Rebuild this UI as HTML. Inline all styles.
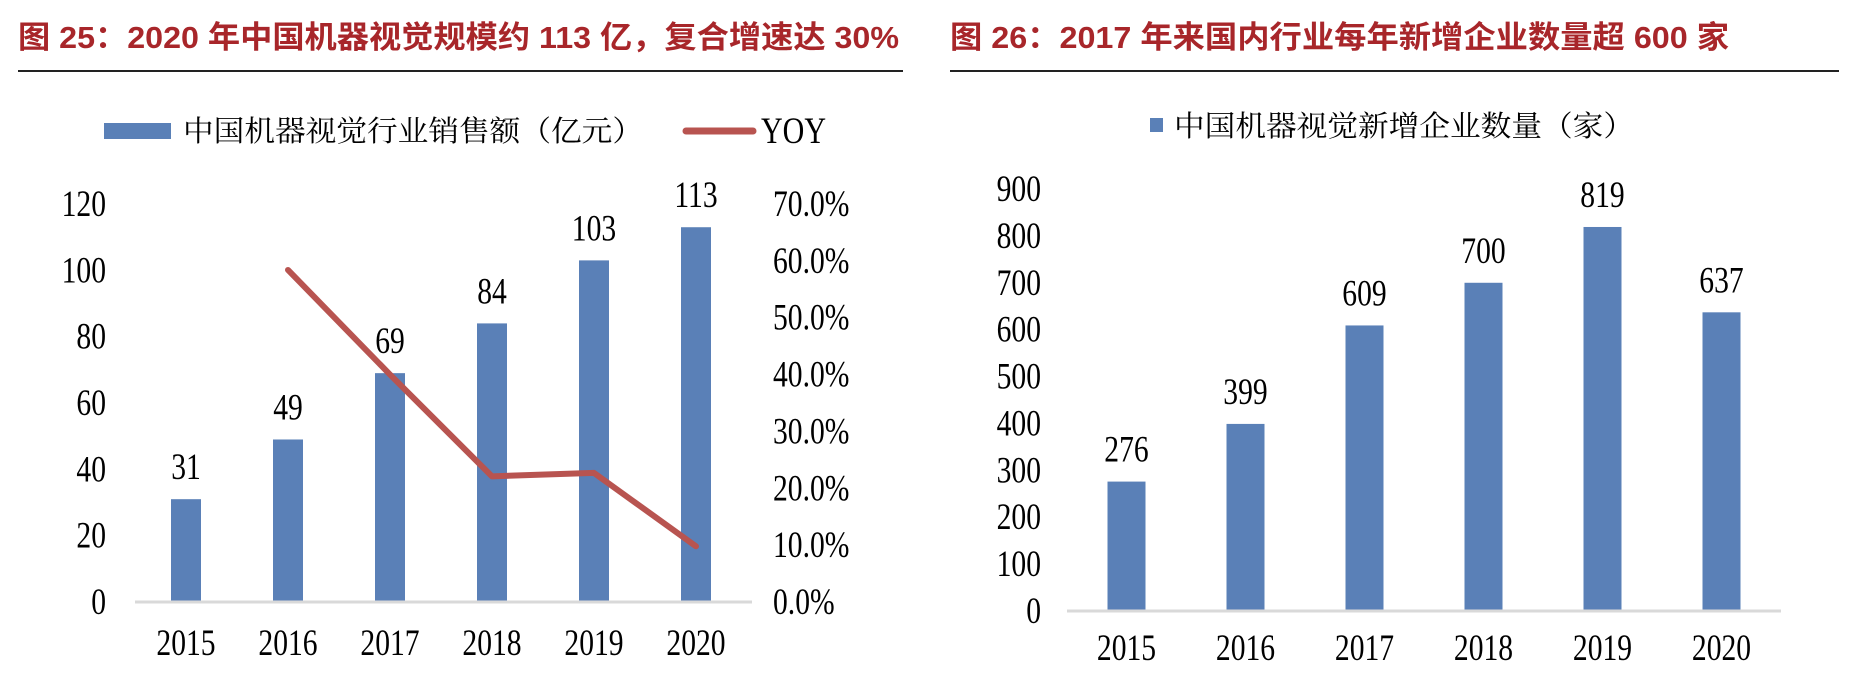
<!DOCTYPE html>
<html><head><meta charset="utf-8"><style>
html,body{margin:0;padding:0;background:#fff;overflow:hidden;}
svg{display:block;}
.num{font-family:"Liberation Serif",serif;font-size:37px;fill:#000;}
.ttl{font-family:"Liberation Sans","Noto Sans CJK SC",sans-serif;font-weight:bold;font-size:31px;fill:#a8262a;}
.lg{font-family:"Liberation Serif","Noto Serif CJK SC",serif;font-size:29px;fill:#000;}
</style></head><body>
<svg id="svg" width="1850" height="692" viewBox="0 0 1850 692" xmlns="http://www.w3.org/2000/svg">
<text class="ttl" x="18" y="48" textLength="881" lengthAdjust="spacingAndGlyphs">图 25：2020 年中国机器视觉规模约 113 亿，复合增速达 30%</text>
<line x1="18" y1="71" x2="903" y2="71" stroke="#222" stroke-width="2"/>
<text class="ttl" x="950" y="48" textLength="779" lengthAdjust="spacingAndGlyphs">图 26：2017 年来国内行业每年新增企业数量超 600 家</text>
<line x1="950" y1="71" x2="1839" y2="71" stroke="#222" stroke-width="2"/>

<rect x="104" y="123" width="67" height="16" fill="#5a80b7"/>
<text class="lg" x="183" y="141" textLength="460" lengthAdjust="spacingAndGlyphs">中国机器视觉行业销售额（亿元）</text>
<line x1="686" y1="131" x2="753" y2="131" stroke="#b85450" stroke-width="7" stroke-linecap="round"/>
<text class="num" x="761" y="143" textLength="65" lengthAdjust="spacingAndGlyphs">YOY</text>

<rect x="1150" y="118" width="13" height="14" fill="#5a80b7"/>
<text class="lg" x="1174" y="136" textLength="460" lengthAdjust="spacingAndGlyphs">中国机器视觉新增企业数量（家）</text>
<g id="c1"></g><g id="c2"></g>
</svg>
<script>
const years = ["2015","2016","2017","2018","2019","2020"];
const sales = [31,49,69,84,103,113];
const yoy = [null,58.4,40.0,22.1,22.7,9.8];
const leftTicks = [0,20,40,60,80,100,120];
const rightTicks = [0,10,20,30,40,50,60,70];
const firms = [276,399,609,700,819,637];
const firmTicks = [0,100,200,300,400,500,600,700,800,900];

const NS="http://www.w3.org/2000/svg";
function el(tag,attrs,parent){const e=document.createElementNS(NS,tag);for(const k in attrs)e.setAttribute(k,attrs[k]);parent.appendChild(e);return e;}
function txt(parent,s,x,y,anchor){
  const t=el('text',{class:'num',transform:`translate(${x},${y}) scale(0.8,1)`,'text-anchor':anchor},parent);
  t.textContent=s;return t;
}
// Chart 1
const g1=document.getElementById('c1');
const x0=135,x1=747,yb=602,yt=204;
const band=(x1-x0)/years.length;
const xc=i=>x0+band*(i+0.5);
const yL=v=>yb-(v/120)*(yb-yt);
const yR=v=>yb-(v/70)*(yb-yt);
let e;
leftTicks.forEach(v=>{e=txt(g1,String(v),106,yL(v)+12,'end');

});
rightTicks.forEach(v=>{e=txt(g1,v.toFixed(1)+'%',773,yR(v)+12,'start');

});
sales.forEach((v,i)=>{
  e=el('rect',{x:xc(i)-15,y:yL(v),width:30,height:yb-yL(v),fill:'#5a80b7'},g1);
  
  
  e=txt(g1,String(v),xc(i),yL(v)-20,'middle');
  
  
  e=txt(g1,years[i],xc(i),655,'middle');
  
  
});
e=el('line',{x1:x0,y1:yb,x2:x1+5,y2:yb,stroke:'#d9d9d9','stroke-width':3},g1);


const pts=[];yoy.forEach((v,i)=>{if(v!==null)pts.push(xc(i)+','+yR(v));});
e=el('polyline',{points:pts.join(' '),fill:'none',stroke:'#b85450','stroke-width':6,'stroke-linecap':'round','stroke-linejoin':'round'},g1);



// Chart 2
const g2=document.getElementById('c2');
const a0=1067,a1=1781,b0=611,b1=189;
const band2=(a1-a0)/years.length;
const xc2=i=>a0+band2*(i+0.5);
const y2=v=>b0-(v/900)*(b0-b1);
firmTicks.forEach(v=>{e=txt(g2,String(v),1041,y2(v)+12,'end');

});
firms.forEach((v,i)=>{
  e=el('rect',{x:xc2(i)-19,y:y2(v),width:38,height:b0-y2(v),fill:'#5a80b7'},g2);
  
  
  e=txt(g2,String(v),xc2(i),y2(v)-20,'middle');
  
  
  e=txt(g2,years[i],xc2(i),660,'middle');
  
  
});
e=el('line',{x1:a0,y1:b0,x2:a1,y2:b0,stroke:'#d9d9d9','stroke-width':3},g2);


</script>
</body></html>
